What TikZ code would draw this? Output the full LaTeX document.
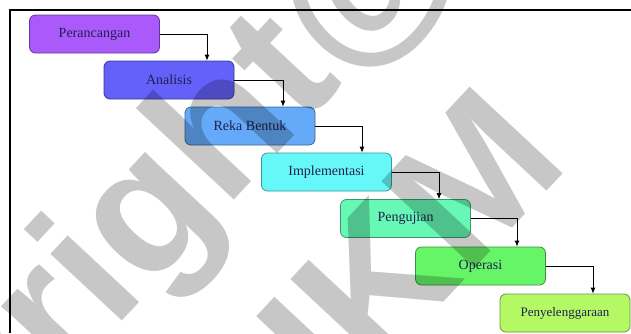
\documentclass[tikz,border=0pt]{standalone}
\usepackage{fontspec}
\setmainfont{Liberation Serif}
\newfontfamily\wmfont{Liberation Sans}
\usetikzlibrary{arrows.meta}
\definecolor{cA}{HTML}{AA5AFA}
\definecolor{cB}{HTML}{6460FA}
\definecolor{cC}{HTML}{64AAF8}
\definecolor{cD}{HTML}{66F8F8}
\definecolor{cE}{HTML}{66F8B4}
\definecolor{cF}{HTML}{66F566}
\definecolor{cG}{HTML}{B4F864}
\definecolor{txt}{HTML}{1F2050}
\tikzset{
  stage/.style={draw=#1!60!black, fill=#1, rounded corners=6pt,
    minimum width=130pt, minimum height=38pt, inner sep=0pt,
    font=\fontsize{14}{16}\selectfont, text=txt, line width=0.8pt},
  conn/.style={-{Latex[length=6pt,width=5pt]}, line width=0.8pt},
  wm/.style={font=\wmfont\bfseries\fontsize{185}{195}\selectfont,
    text=black, text opacity=0.22, rotate=47, inner sep=0pt}
}
\begin{document}
\begin{tikzpicture}[x=1pt,y=-1pt]
\useasboundingbox (0,0) rectangle (631,333);
\fill[white] (0,0) rectangle (631,333);
\draw[line width=1.5pt] (10,333) -- (10,10) -- (631,10);
\node[stage=cA] (a) at (94.5,34) {Perancangan};
\node[stage=cB] (b) at (169,80) {Analisis};
\node[stage=cC] (c) at (250,126) {Reka Bentuk};
\node[stage=cD] (d) at (326.5,172) {Implementasi};
\node[stage=cE] (e) at (405.5,218.5) {Pengujian};
\node[stage=cF] (f) at (480.5,266) {Operasi};
\node[stage=cG, font=\fontsize{13}{15}\selectfont] (g) at (565,313) {Penyelenggaraan};
\draw[conn] (a.east) -| ([xshift=38pt]b.north);
\draw[conn] (b.east) -| ([xshift=33pt]c.north);
\draw[conn] (c.east) -| ([xshift=35.5pt]d.north);
\draw[conn] (d.east) -| ([xshift=33.5pt]e.north);
\draw[conn] (e.east) -| ([xshift=36.5pt]f.north);
\draw[conn] (f.east) -| ([xshift=28pt]g.north);
\node[wm, anchor=base east] (wm1) at (468,-50) {Copyright@};
\node[wm, anchor=base east] (wm2) at (572,165) {UKM};
\end{tikzpicture}
\end{document}
